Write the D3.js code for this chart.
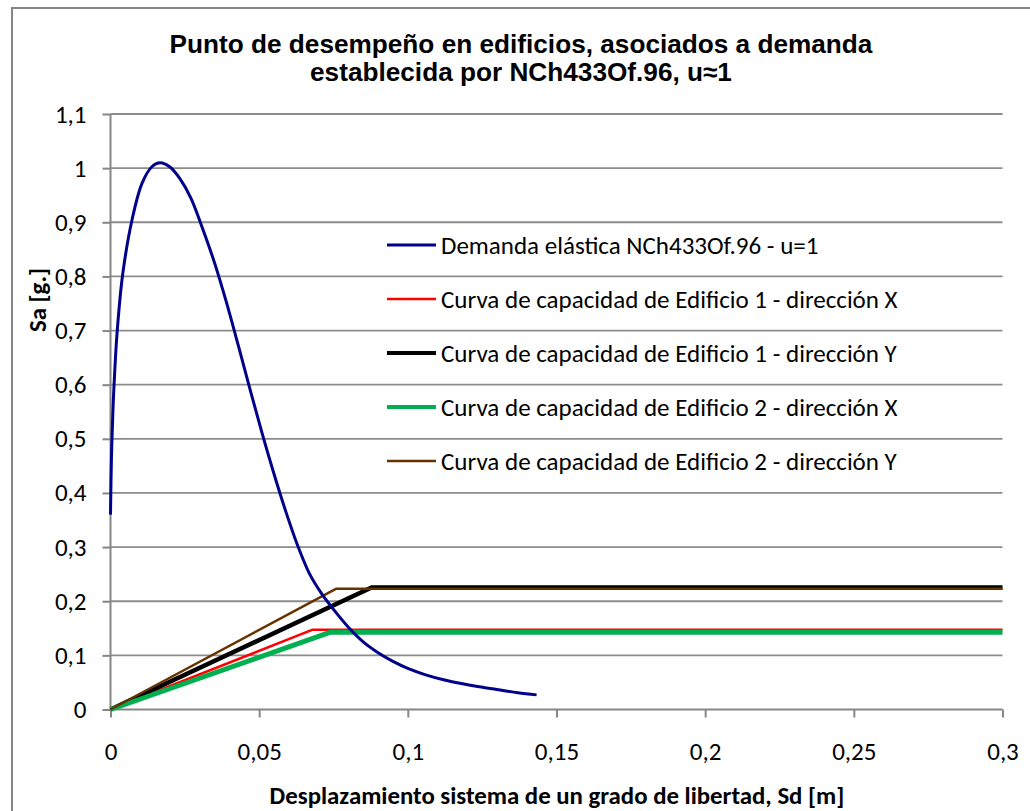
<!DOCTYPE html>
<html>
<head>
<meta charset="utf-8">
<script src="https://cdn.jsdelivr.net/npm/d3@7"></script>
<style>
  body { margin: 0; background: #fff; }
  svg { display: block; }
</style>
</head>
<body>
<svg width="1030" height="811"></svg>
<script>
// demand curve (Sd [m], Sa [g])
var demandSd = [0, 0.0003, 0.0008, 0.0012, 0.0022, 0.0041, 0.0073, 0.0106, 0.014, 0.0167, 0.020, 0.0234,
  0.027, 0.031, 0.035, 0.039, 0.043, 0.047, 0.051, 0.055, 0.059, 0.063, 0.067, 0.071, 0.075, 0.080,
  0.085, 0.090, 0.095, 0.100, 0.106, 0.112, 0.118, 0.124, 0.130, 0.137, 0.1433];
var demandSa = [0.36, 0.46, 0.55, 0.6, 0.695, 0.804, 0.906, 0.972, 1.003, 1.010, 1.002, 0.980,
  0.945, 0.888, 0.825, 0.752, 0.672, 0.590, 0.510, 0.435, 0.365, 0.302, 0.250, 0.214, 0.185, 0.152,
  0.125, 0.105, 0.089, 0.076, 0.064, 0.055, 0.048, 0.042, 0.037, 0.031, 0.027];

// capacity curves (bilinear)
var ed1xSd = [0, 0.068, 0.3], ed1xSa = [0, 0.1475, 0.1475];
var ed1ySd = [0, 0.0878, 0.3], ed1ySa = [0, 0.2255, 0.2255];
var ed2xSd = [0, 0.0738, 0.3], ed2xSa = [0, 0.1425, 0.1425];
var ed2ySd = [0, 0.0758, 0.3], ed2ySa = [0, 0.223, 0.223];

var seriesNames = [
  "Demanda elástica NCh433Of.96 - u=1",
  "Curva de capacidad de Edificio 1 - dirección X",
  "Curva de capacidad de Edificio 1 - dirección Y",
  "Curva de capacidad de Edificio 2 - dirección X",
  "Curva de capacidad de Edificio 2 - dirección Y"
];
var seriesColors = ["#00008b", "#ff0000", "#000000", "#00b050", "#663300"];
var seriesWidths = [3, 2.5, 4.5, 5, 2.5];

var xTicks = [0, 0.05, 0.1, 0.15, 0.2, 0.25, 0.3];
var yTicks = [0, 0.1, 0.2, 0.3, 0.4, 0.5, 0.6, 0.7, 0.8, 0.9, 1, 1.1];

var bodyFont = "Carlito, Lato, 'Open Sans', sans-serif";
var fmt = function(v) { return String(+v.toFixed(2)).replace(".", ","); };

// scale a text's font so that it is `target` px wide
function fitSize(node, base, target) {
  return base * target / node.getComputedTextLength();
}

var svg = d3.select("svg");

// chart border
svg.append("rect")
  .attr("x", 12).attr("y", 8)
  .attr("width", 1030).attr("height", 820)
  .attr("fill", "none")
  .attr("stroke", "#868686")
  .attr("stroke-width", 2);

var margin = {top: 114, left: 110.5, right: 1002.5, bottom: 709.5};

var x = d3.scaleLinear().domain([0, 0.3]).range([margin.left, margin.right]);
var y = d3.scaleLinear().domain([0, 1.1]).range([margin.bottom, margin.top]);

// work out the body font size from the legend width
var probe = svg.append("text")
  .style("font-family", bodyFont).style("font-size", "20px")
  .text(seriesNames[1]);
var bodySize = fitSize(probe.node(), 20, 457);
probe.style("font-weight", "bold").text("Desplazamiento sistema de un grado de libertad, Sd [m]");
var boldSize = fitSize(probe.node(), 20, 575);
probe.remove();

// gridlines
svg.append("g")
  .selectAll("line")
  .data(yTicks.slice(1))
  .enter().append("line")
  .attr("x1", margin.left).attr("x2", margin.right)
  .attr("y1", d => y(d)).attr("y2", d => y(d))
  .attr("stroke", "#8c8c8c")
  .attr("stroke-width", 1.8);

// axes
var yAxis = svg.append("g")
  .attr("transform", "translate(" + margin.left + ",0)")
  .call(d3.axisLeft(y).tickValues(yTicks).tickFormat(fmt).tickSize(8).tickPadding(16));
var xAxis = svg.append("g")
  .attr("transform", "translate(0," + margin.bottom + ")")
  .call(d3.axisBottom(x).tickValues(xTicks).tickFormat(fmt).tickSize(8).tickPadding(25));

[xAxis, yAxis].forEach(function(a) {
  a.select(".domain").attr("stroke", "#868686").attr("stroke-width", 2);
  a.selectAll(".tick line").attr("stroke", "#868686").attr("stroke-width", 2);
  a.selectAll(".tick text")
    .attr("fill", "#000")
    .style("font-family", bodyFont)
    .style("font-size", bodySize + "px");
});
yAxis.select(".domain").attr("d", "M0," + margin.bottom + "V" + margin.top);
xAxis.select(".domain").attr("d", "M" + margin.left + ",0H" + margin.right);

// lines
var line = d3.line()
  .x(d => x(d[0]))
  .y(d => y(d[1]));
var smooth = d3.line()
  .curve(d3.curveCatmullRom.alpha(0.5))
  .x(d => x(d[0]))
  .y(d => y(d[1]));

var pairs = function(a, b) { return a.map((v, i) => [v, b[i]]); };
var capacity = [
  {i: 1, pts: pairs(ed1xSd, ed1xSa)},
  {i: 2, pts: pairs(ed1ySd, ed1ySa)},
  {i: 3, pts: pairs(ed2xSd, ed2xSa)},
  {i: 4, pts: pairs(ed2ySd, ed2ySa)}
];

svg.append("g").selectAll("path")
  .data(capacity)
  .enter().append("path")
  .attr("d", d => line(d.pts))
  .attr("fill", "none")
  .attr("stroke", d => seriesColors[d.i])
  .attr("stroke-width", d => seriesWidths[d.i])
  .attr("stroke-linejoin", "round");

svg.append("path")
  .attr("d", smooth(pairs(demandSd, demandSa)))
  .attr("fill", "none")
  .attr("stroke", seriesColors[0])
  .attr("stroke-width", seriesWidths[0])
  .attr("stroke-linejoin", "round");

// legend
var legend = svg.append("g").selectAll("g")
  .data(seriesNames)
  .enter().append("g")
  .attr("transform", (d, i) => "translate(387," + (245 + i * 54) + ")");
legend.append("line")
  .attr("x1", 0).attr("x2", 49)
  .attr("stroke", (d, i) => seriesColors[i])
  .attr("stroke-width", (d, i) => Math.min(seriesWidths[i], 4));
legend.append("text")
  .attr("x", 54).attr("dy", "0.35em")
  .style("font-family", bodyFont)
  .style("font-size", bodySize + "px")
  .text(d => d);

// titles
var title = svg.append("text")
  .attr("text-anchor", "middle")
  .style("font-family", "'Liberation Sans', Arial, sans-serif")
  .style("font-weight", "bold")
  .style("font-size", "22px");
var t1 = title.append("tspan").attr("x", 521).attr("y", 53).text("Punto de desempeño en edificios, asociados a demanda");
var titleSize = fitSize(t1.node(), 22, 703);
title.style("font-size", titleSize + "px");
title.append("tspan").attr("x", 521).attr("y", 53 + 28).text("establecida por NCh433Of.96, u≈1");

svg.append("text")
  .attr("transform", "translate(46,300) rotate(-90)")
  .attr("text-anchor", "middle")
  .style("font-family", bodyFont)
  .style("font-weight", "bold")
  .style("font-size", boldSize + "px")
  .text("Sa [g.]");

svg.append("text")
  .attr("x", 557).attr("y", 804)
  .attr("text-anchor", "middle")
  .style("font-family", bodyFont)
  .style("font-weight", "bold")
  .style("font-size", boldSize + "px")
  .text("Desplazamiento sistema de un grado de libertad, Sd [m]");
</script>
</body>
</html>
